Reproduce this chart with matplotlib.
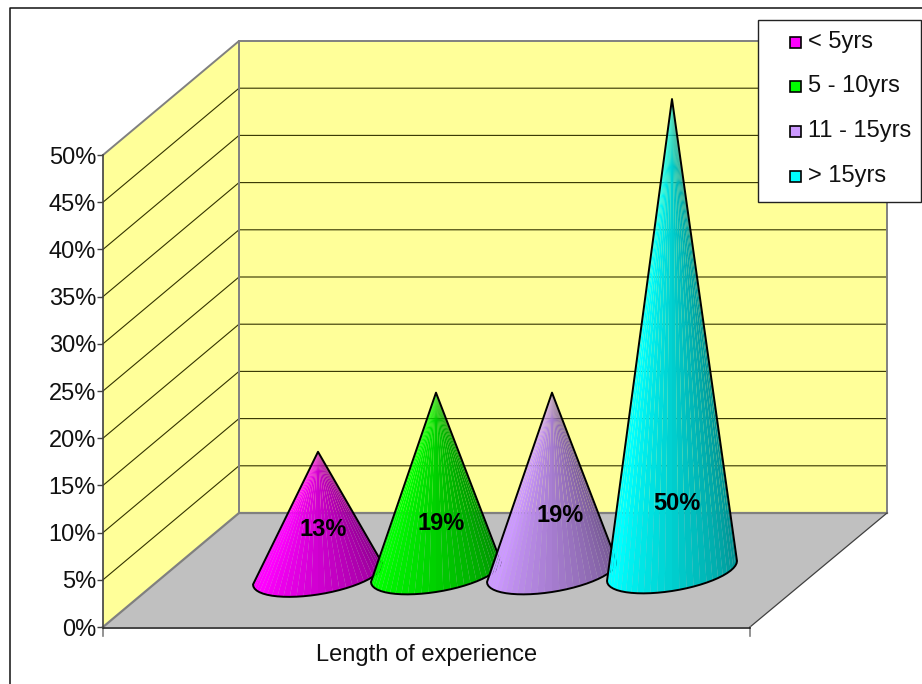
import numpy as np
import matplotlib
matplotlib.use('Agg')
import matplotlib.pyplot as plt
from matplotlib.collections import PolyCollection
from matplotlib.patches import Polygon, Rectangle

plt.rcParams['font.family'] = ['Liberation Sans Narrow', 'Liberation Sans', 'DejaVu Sans']

# survey shares
categories = ['< 5yrs', '5 - 10yrs', '11 - 15yrs', '> 15yrs']
values = [13, 19, 19, 50]
value_labels = ['13%', '19%', '19%', '50%']
colors = ['#FF00FF', '#00FF00', '#CC99FF', '#00FFFF']
yticks = [0, 5, 10, 15, 20, 25, 30, 35, 40, 45, 50]
xlabel_text = 'Length of experience'

# layout in pixels on x, y is in percent
W, H = 922, 684
Y0_PX = 627.0
PX_PER_PCT = 9.44
cone_x = [318, 436, 552, 672]
cone_base_px = [574.5, 572, 572, 571]
label_xy = [(323, 530), (441, 523), (560, 516), (677, 503)]
swatch_y = [42, 86, 131, 176]
FS = 17


def py(p):
    # pixel row -> percent
    return (Y0_PX - np.asarray(p, dtype=float)) / PX_PER_PCT


fig = plt.figure(figsize=(W / 100, H / 100), dpi=100)
ax = fig.add_axes([0, 0, 1, 1])
ax.set_xlim(0, W)
ax.set_ylim(py(H), py(0))

# outer border
ax.plot([9.5, 9.5, W], [py(H), py(7.5), py(7.5)], color='#111111', lw=1.1, zorder=1)

# walls and floor
left_x, back_x, right_x, front_x = 103, 239, 887, 750
depth = py(513)
top = 50
wall_c = '#FFFF99'
edge = '#808080'
ax.add_patch(Polygon([(left_x, 0), (back_x, depth), (back_x, depth + top), (left_x, top)],
                     fc=wall_c, ec='none', zorder=1))
ax.add_patch(Polygon([(back_x, depth), (right_x, depth), (right_x, depth + top), (back_x, depth + top)],
                     fc=wall_c, ec='none', zorder=1))
ax.add_patch(Polygon([(left_x, 0), (back_x, depth), (right_x, depth), (front_x, 0)],
                     fc='#C0C0C0', ec='none', zorder=1))

# gridlines on both walls
for v in yticks[1:-1]:
    ax.plot([left_x, back_x, right_x], [v, v + depth, v + depth], color='#333300', lw=0.8, zorder=1.5)

ax.plot([left_x, back_x, right_x, right_x], [top, top + depth, top + depth, depth], color=edge, lw=1.4, zorder=1.6)
ax.plot([back_x, back_x], [top + depth, depth], color=edge, lw=1.4, zorder=1.6)
ax.plot([left_x, back_x, right_x], [0, depth, depth], color=edge, lw=1.6, zorder=1.6)
ax.plot([right_x, front_x], [depth, 0], color='#404040', lw=0.9, zorder=1.6)
ax.plot([left_x, front_x], [-0.1, -0.1], color='#111111', lw=1.1, zorder=1.7)
for x in (left_x, front_x):
    ax.plot([x, x], [0, py(636)], color=edge, lw=1.2, zorder=1.6)

# y axis sits on the front edge of the left wall
for s in ('top', 'right', 'bottom'):
    ax.spines[s].set_visible(False)
ax.spines['left'].set_position(('data', left_x))
ax.spines['left'].set_bounds(0, top)
ax.spines['left'].set_color('#404040')
ax.spines['left'].set_linewidth(1.2)
ax.set_xticks([])
ax.set_yticks(yticks)
ax.set_yticklabels([f'{v}%' for v in yticks], fontsize=FS, color='#111111')
ax.tick_params(axis='y', length=4, width=1.0, color='#404040', pad=1)

# cones: fan of shaded slices from the tip to the elliptical base
n_slices = 28
semi_a, semi_b, tilt = 65.0, 20.0, 10.0
t = np.linspace(np.pi, 0, n_slices + 1)
for i, (cx, v, c, bp) in enumerate(zip(cone_x, values, colors, cone_base_px)):
    base_y = py(bp)
    bx = cx + semi_a * np.cos(t)
    by = base_y - (semi_b * np.sin(t) - tilt * np.cos(t)) / PX_PER_PCT
    tip = (cx, base_y + v)
    rgb = np.array(matplotlib.colors.to_rgb(c))
    polys = []
    fc = []
    for k in range(n_slices):
        polys.append([tip, (bx[k], by[k]), (bx[k + 1], by[k + 1])])
        f = k / (n_slices - 1)
        shade = 1.0 if f < 0.15 else 1.0 - 0.45 * (f - 0.15) / 0.85
        fc.append(rgb * shade)
    ax.add_collection(PolyCollection(polys, facecolors=fc, edgecolors='none',
                                     antialiased=True, zorder=3 + i))
    outline = [tip] + list(zip(bx, by))
    ax.add_patch(Polygon(outline, closed=True, fc='none', ec='black', lw=1.4,
                         joinstyle='round', zorder=3 + i + 0.5))

# value labels
for (lx, ly), s in zip(label_xy, value_labels):
    ax.text(lx, py(ly), s, fontsize=FS, fontweight='bold', color='black',
            ha='center', va='center', zorder=10)

ax.text(427, py(655), xlabel_text, fontsize=FS, color='#111111', ha='center', va='center')

# legend box
ax.add_patch(Rectangle((757.5, py(202)), 163, py(20) - py(202), fc='white', ec='#222222', lw=1.0, zorder=11))
for y, name, c in zip(swatch_y, categories, colors):
    ax.add_patch(Rectangle((790, py(y + 6)), 11, 11 / PX_PER_PCT, fc=c, ec='black', lw=1.2, zorder=12))
    ax.text(808, py(y), name, fontsize=FS, color='#111111', ha='left', va='center', zorder=12)

fig.savefig('out.png', dpi=100)
